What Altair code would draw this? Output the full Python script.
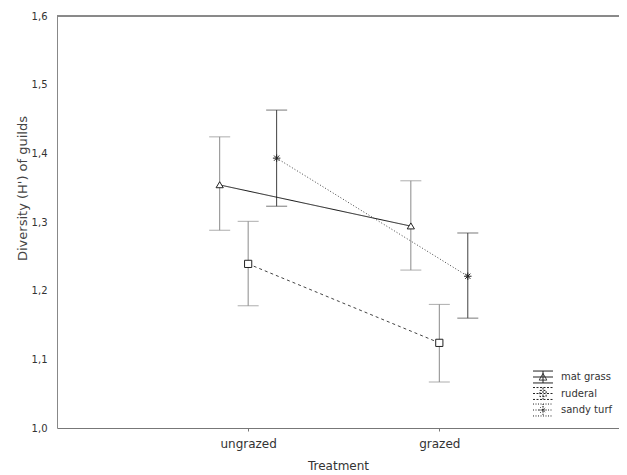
import json
import altair as alt
import pandas as pd

# ---- data ----
guilds = ["mat grass", "ruderal", "sandy turf"]
treatments = ["ungrazed", "grazed"]
mean_ungrazed = [1.354, 1.239, 1.393]
mean_grazed = [1.294, 1.124, 1.221]
upper_ungrazed = [1.424, 1.301, 1.463]
upper_grazed = [1.360, 1.180, 1.284]
lower_ungrazed = [1.288, 1.178, 1.323]
lower_grazed = [1.230, 1.067, 1.160]
y_ticks = [1.0, 1.1, 1.2, 1.3, 1.4, 1.5, 1.6]

rows = []
for t_i, t in enumerate(treatments):
    means = [mean_ungrazed, mean_grazed][t_i]
    ups = [upper_ungrazed, upper_grazed][t_i]
    lows = [lower_ungrazed, lower_grazed][t_i]
    for g_i, g in enumerate(guilds):
        rows.append({"treatment": t, "t_idx": t_i + 1, "guild": g, "g_idx": g_i,
                     "mean": means[g_i], "lo": lows[g_i], "hi": ups[g_i]})
df = pd.DataFrame(rows)

FONT = "DejaVu Sans"
W, H = 562, 412
x_scale = alt.Scale(domain=[0, 2.94], nice=False, zero=False)
y_scale = alt.Scale(domain=[1.0, 1.6], nice=False, zero=False)

x_axis = alt.Axis(values=[1, 2], labelExpr=f"{json.dumps(treatments)}[datum.value - 1]",
                  title="Treatment", grid=False, tickSize=3, tickColor="#777",
                  domainColor="#777", labelFont=FONT, labelFontSize=12, labelColor="#333",
                  labelPadding=7, titleFont=FONT, titleFontSize=12, titleFontWeight="normal",
                  titleColor="#333", titlePadding=11)
y_axis = alt.Axis(values=y_ticks, labelExpr="replace(format(datum.value, '.1f'), '.', ',')",
                  title="Diversity (H') of guilds", grid=False, ticks=False, tickSize=0,
                  domainColor="#888", labelFont=FONT, labelFontSize=10, labelColor="#333",
                  labelPadding=10, titleFont=FONT, titleFontSize=13, titleFontWeight="normal",
                  titleColor="#444", titleX=-35, titleY=172, titleBaseline="middle")

base = alt.Chart(df).transform_calculate(
    xpos="datum.t_idx + (datum.g_idx - 1) * 0.149"
)

X = alt.X("xpos:Q", scale=x_scale, axis=x_axis)

def Y(field):
    return alt.Y(field, scale=y_scale, axis=y_axis)

bar_colors = alt.Scale(domain=guilds, range=["#8a8a8a", "#8a8a8a", "#404040"])

layers = []
layers.append(base.mark_rule(strokeWidth=1).encode(
    x=X, y=Y("lo:Q"), y2="hi:Q",
    color=alt.Color("guild:N", scale=bar_colors, legend=None),
))
layers.append(base.transform_fold(["lo", "hi"], as_=["end", "val"]).mark_tick(
    orient="horizontal", size=21, thickness=1).encode(
    x=X, y=Y("val:Q"),
    color=alt.Color("guild:N", scale=bar_colors, legend=None),
))

line_styles = {
    "mat grass": dict(strokeDash=[1, 0], color="#111111"),
    "ruderal": dict(strokeDash=[3, 3], color="#444444"),
    "sandy turf": dict(strokeDash=[1, 2], color="#444444"),
}
for g in guilds:
    layers.append(base.transform_filter(alt.datum.guild == g).mark_line(
        strokeWidth=1, **line_styles[g]).encode(x=X, y=Y("mean:Q"), order="t_idx:Q"))

marker_paths = {
    "mat grass": "M0,-0.8L0.9,0.7L-0.9,0.7Z",
    "ruderal": "M-1,-1H1V1H-1Z",
    "sandy turf": "M-1,0H1M0,-1V1M-0.7,-0.7L0.7,0.7M-0.7,0.7L0.7,-0.7",
}
marker_sizes = {"mat grass": 64, "ruderal": 52, "sandy turf": 56}
for g in guilds:
    layers.append(base.transform_filter(alt.datum.guild == g).mark_point(
        shape=marker_paths[g], size=marker_sizes[g], fill="white", filled=False,
        stroke="#222222", strokeWidth=1, opacity=1).encode(x=X, y=Y("mean:Q")))

# legend drawn in the lower right corner of the plot
caps = "M-1.29,-0.77H1.29M-1.29,0.77H1.29M0,-0.77V0.77M-1.29,0H1.29"
legend_glyphs = {
    "mat grass": caps + "M0,-0.45L0.5,0.4L-0.5,0.4Z",
    "ruderal": caps + "M-0.4,-0.4H0.4V0.4H-0.4Z",
    "sandy turf": caps + "M-0.5,0H0.5M0,-0.5V0.5M-0.35,-0.35L0.35,0.35M-0.35,0.35L0.35,-0.35",
}
legend_dash = {"mat grass": [1, 0], "ruderal": [2, 1.5], "sandy turf": [1, 1.5]}
for i, g in enumerate(guilds):
    ly = 361 + 16.5 * i
    entry = alt.Chart(pd.DataFrame({"guild": [g]}))
    layers.append(entry.mark_point(shape=legend_glyphs[g], size=240, fill="white",
                                   stroke="#222222", strokeWidth=1, opacity=1,
                                   strokeDash=legend_dash[g]).encode(
        x=alt.value(486), y=alt.value(ly)))
    layers.append(entry.mark_text(align="left", baseline="middle", font=FONT, fontSize=10,
                                  color="#333").encode(
        x=alt.value(504), y=alt.value(ly), text="guild:N"))

# top frame line
layers.append(alt.Chart(df).mark_rule(color="#888", strokeWidth=1).encode(
    x=alt.value(0), x2=alt.value(W), y=alt.value(0)))

chart = alt.layer(*layers).properties(
    width=W, height=H,
    autosize=alt.AutoSizeParams(type="none"),
    padding={"left": 49, "top": 8, "right": 0, "bottom": 45},
    background="white",
).configure_view(stroke=None)

chart.save("out.html", embed_options={"renderer": "svg", "actions": False})
